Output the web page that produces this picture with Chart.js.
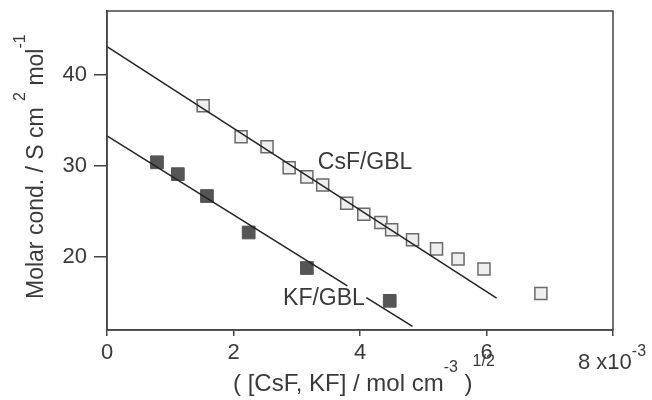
<!DOCTYPE html>
<html>
<head>
<meta charset="utf-8">
<script src="https://cdn.jsdelivr.net/npm/chart.js@4.4.1/dist/chart.umd.min.js"></script>
<style>
  html, body { margin: 0; padding: 0; background: #fff; }
  #wrap { width: 652px; height: 400px; position: relative; }
</style>
</head>
<body>
<div id="wrap"><canvas id="chart"></canvas></div>
<script>
// sqrt concentration (x10^-3) and molar conductivity values
const csfX = [1.52, 2.12, 2.53, 2.88, 3.16, 3.41, 3.79, 4.06, 4.33, 4.50, 4.83, 5.21, 5.55, 5.96, 6.86];
const csfY = [36.6, 33.2, 32.1, 29.8, 28.8, 27.9, 25.9, 24.7, 23.8, 23.0, 21.9, 20.9, 19.8, 18.7, 16.0];
const kfX = [0.79, 1.12, 1.58, 2.24, 3.16, 4.47];
const kfY = [30.4, 29.1, 26.7, 22.7, 18.8, 15.2];

// fitted lines (KF line is broken around its label)
const csfFitX = [0, 6.16];
const csfFitY = [43.1, 15.5];
const kfFitX = [0, 3.8, 3.95, 4.1, 4.83];
const kfFitY = [33.3, 16.85, null, 15.55, 12.4];

const xTicks = [0, 2, 4, 6, 8];
const yTicks = [20, 30, 40];

const seriesLabels = [
  { text: 'CsF/GBL', x: 4.08, y: 30.4 },
  { text: 'KF/GBL', x: 3.43, y: 15.4 }
];

const FONT = '"Liberation Sans", Arial, sans-serif';
const INK = '#3a3a3a';

const toPoints = (xs, ys) => xs.map((x, i) => ({ x: x, y: ys[i] }));

// draw text pieces one after another, with superscripts
function drawRich(ctx, x, y, parts) {
  let cx = x;
  parts.forEach(p => {
    ctx.font = p.size + 'px ' + FONT;
    ctx.fillText(p.t, cx, y - (p.up || 0));
    cx += ctx.measureText(p.t).width;
  });
}

const decorations = {
  id: 'decorations',
  afterDraw(chart) {
    const ctx = chart.ctx;
    const area = chart.chartArea;
    const xs = chart.scales.x;
    const ys = chart.scales.y;
    ctx.save();

    // box frame
    ctx.strokeStyle = '#444';
    ctx.lineWidth = 1.5;
    ctx.strokeRect(area.left, area.top, area.right - area.left, area.bottom - area.top);

    ctx.fillStyle = INK;

    // series labels
    ctx.textAlign = 'center';
    ctx.textBaseline = 'middle';
    ctx.font = '23px ' + FONT;
    seriesLabels.forEach(l => {
      ctx.fillText(l.text, xs.getPixelForValue(l.x), ys.getPixelForValue(l.y));
    });

    ctx.textAlign = 'left';
    ctx.textBaseline = 'alphabetic';

    // last x tick with the exponent
    drawRich(ctx, 578, 369, [
      { t: '8 x10', size: 22 },
      { t: '-3', size: 16, up: 13 }
    ]);

    // x axis title
    drawRich(ctx, 233, 391, [
      { t: '( [CsF, KF] / mol cm', size: 24 },
      { t: '-3', size: 16, up: 19 },
      { t: ' )', size: 24 },
      { t: '1/2', size: 16, up: 25 }
    ]);

    // y axis title
    ctx.translate(43, 299);
    ctx.rotate(-Math.PI / 2);
    drawRich(ctx, 0, 0, [
      { t: 'Molar cond. / S cm ', size: 23 },
      { t: '2', size: 16, up: 18 },
      { t: ' mol', size: 23 },
      { t: '-1', size: 16, up: 18 }
    ]);

    ctx.restore();
  }
};

new Chart(document.getElementById('chart'), {
  type: 'scatter',
  data: {
    datasets: [
      {
        label: 'CsF fit',
        data: toPoints(csfFitX, csfFitY),
        showLine: true,
        borderColor: '#222',
        borderWidth: 1.5,
        pointRadius: 0
      },
      {
        label: 'KF fit',
        data: toPoints(kfFitX, kfFitY),
        showLine: true,
        spanGaps: false,
        borderColor: '#222',
        borderWidth: 1.5,
        pointRadius: 0
      },
      {
        label: 'CsF/GBL',
        data: toPoints(csfX, csfY),
        pointStyle: 'rect',
        pointRadius: 8.5,
        pointBackgroundColor: '#efefef',
        pointBorderColor: '#6a6a6a',
        pointBorderWidth: 1.5
      },
      {
        label: 'KF/GBL',
        data: toPoints(kfX, kfY),
        pointStyle: 'rect',
        pointRadius: 9,
        pointBackgroundColor: '#555',
        pointBorderColor: '#555',
        pointBorderWidth: 1
      }
    ]
  },
  options: {
    responsive: true,
    maintainAspectRatio: false,
    animation: false,
    layout: { padding: { top: 11, right: 39, left: 0, bottom: 0 } },
    plugins: {
      legend: { display: false },
      tooltip: { enabled: false }
    },
    scales: {
      x: {
        type: 'linear',
        min: 0,
        max: 8,
        afterBuildTicks: s => { s.ticks = xTicks.map(v => ({ value: v })); },
        afterFit: s => { s.height = 70; s.paddingLeft = 0; s.paddingRight = 0; },
        grid: { drawOnChartArea: false, color: '#444', lineWidth: 1.5, tickLength: 6 },
        border: { color: '#444', width: 1.5 },
        ticks: {
          color: INK,
          padding: 4,
          maxRotation: 0,
          font: { family: FONT, size: 22 },
          callback: v => (v === 8 ? '' : String(v))
        }
      },
      y: {
        type: 'linear',
        min: 12,
        max: 47,
        afterBuildTicks: s => { s.ticks = yTicks.map(v => ({ value: v })); },
        afterFit: s => { s.width = 107; s.paddingTop = 0; s.paddingBottom = 0; },
        grid: { drawOnChartArea: false, color: '#444', lineWidth: 1.5, tickLength: 13 },
        border: { color: '#444', width: 1.5 },
        ticks: {
          color: INK,
          padding: 7,
          font: { family: FONT, size: 22 }
        }
      }
    }
  },
  plugins: [decorations]
});
</script>
</body>
</html>
